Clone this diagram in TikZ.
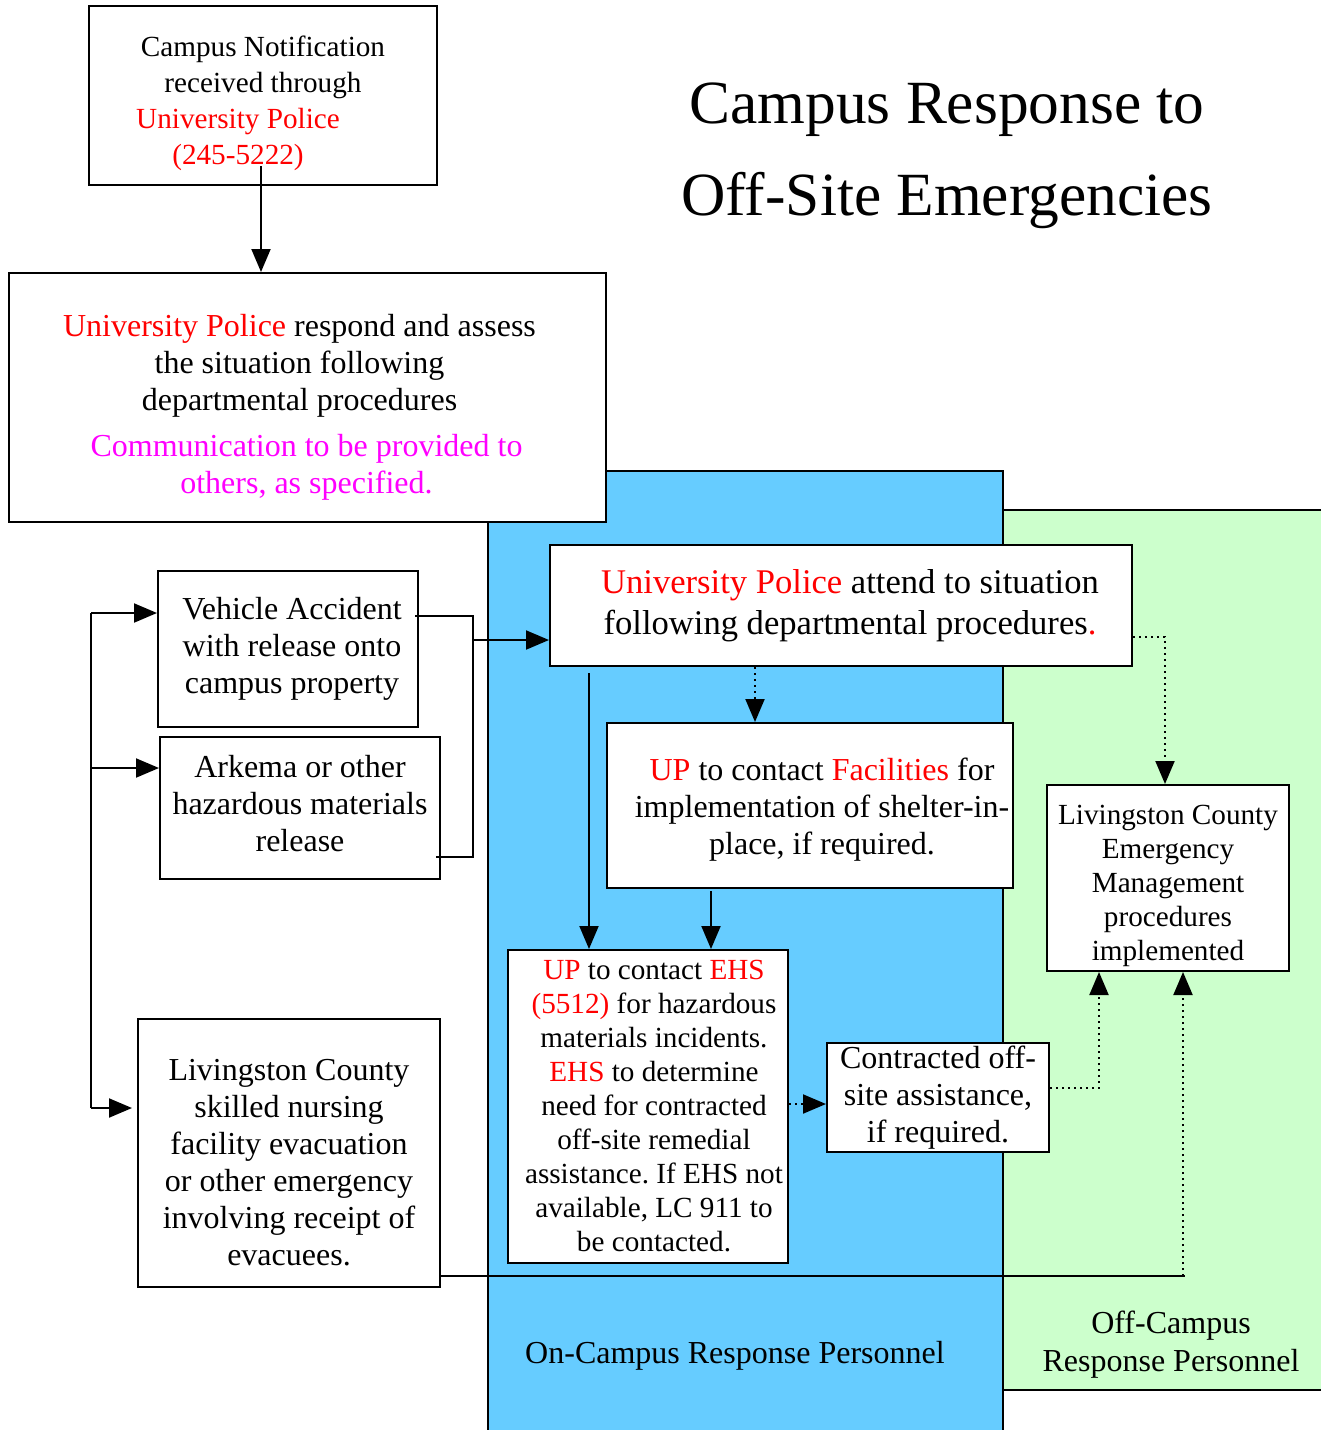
\documentclass[tikz,border=0pt]{standalone}
\usepackage{fontspec}
\setmainfont{Liberation Serif}
\usetikzlibrary{arrows.meta}
\frenchspacing

\definecolor{oncampus}{HTML}{66CCFF}
\definecolor{offcampus}{HTML}{CCFFCC}
\definecolor{upred}{RGB}{255,0,0}
\definecolor{upmagenta}{RGB}{255,0,255}

\newcommand{\toppad}[1]{\rule{0pt}{#1}}

\tikzset{
  box/.style={draw, line width=1pt, fill=white, align=center, inner sep=0pt,
    font=\fontsize{16}{18.5}\selectfont},
  smalltext/.style={font=\fontsize{14.6}{17}\selectfont},
  conn/.style={line width=1pt},
  flow/.style={conn, -{Triangle[length=11.5pt,width=9.5pt]}},
  dotflow/.style={flow, dotted},
}

\begin{document}
\begin{tikzpicture}[x=0.5pt,y=-0.5pt]

\useasboundingbox (0,0) rectangle (1321,1430);
\clip (0,0) rectangle (1321,1430);

\draw[conn, fill=offcampus] (1003,510) rectangle (1340,1390);
\draw[conn, fill=oncampus] (488,471) rectangle (1003,1450);

\node[align=center, font=\fontsize{30.7}{46}\selectfont] (title) at (947,156) {Campus Response to\\Off-Site Emergencies};

\node[box, font=\fontsize{14.6}{18}\selectfont, minimum width=174pt, minimum height=89.5pt] (notif) at (263,95.5)
  {\toppad{18.5pt}Campus Notification\\received through\\\hspace*{-25pt}\textcolor{upred}{University Police}\\\hspace*{-25pt}\textcolor{upred}{(245-5222)}};
\node[box, minimum width=298.5pt, minimum height=124.5pt] (assess) at (307.5,397.5)
  {\toppad{21pt}\hspace*{-8pt}\textcolor{upred}{University Police} respond and assess\\\hspace*{-8pt}the situation following\\\hspace*{-8pt}departmental procedures\\[4.5pt]
   \hspace*{-1pt}\textcolor{upmagenta}{Communication to be provided to}\\\hspace*{-1pt}\textcolor{upmagenta}{others, as specified.}};

\node[box, minimum width=130pt, minimum height=78pt] (vehicle) at (288,649) {\hspace*{4pt}Vehicle Accident\\\hspace*{4pt}with release onto\\\hspace*{4pt}campus property};
\node[box, minimum width=140pt, minimum height=71pt] (arkema) at (300,808) {Arkema or other\\hazardous materials\\release\rule[-5pt]{0pt}{0pt}};
\node[box, minimum width=151pt, minimum height=134pt] (nursing) at (289,1153)
  {\toppad{20pt}Livingston County\\skilled nursing\\facility evacuation\\or other emergency\\involving receipt of\\evacuees.};

\node[box, font=\fontsize{17.3}{20.5}\selectfont, minimum width=291pt, minimum height=60.5pt] (attend) at (841,605.5)
  {\hspace*{9pt}\textcolor{upred}{University Police} attend to situation\\\hspace*{9pt}following departmental procedures\textcolor{upred}{.}};
\node[box, minimum width=203pt, minimum height=82.5pt] (facil) at (810,805.5)
  {\toppad{15pt}\hspace*{12pt}\textcolor{upred}{UP} to contact \textcolor{upred}{Facilities} for\\\hspace*{12pt}implementation of shelter-in-\\\hspace*{12pt}place, if required.};
\node[box, smalltext, minimum width=140pt, minimum height=156.5pt] (ehs) at (648,1106.5)
  {\hspace*{6pt}\textcolor{upred}{UP} to contact \textcolor{upred}{EHS}\\\hspace*{6pt}\textcolor{upred}{(5512)} for hazardous\\\hspace*{6pt}materials incidents.\\\hspace*{6pt}\textcolor{upred}{EHS} to determine\\\hspace*{6pt}need for contracted\\\hspace*{6pt}off-site remedial\\\hspace*{6pt}assistance. If EHS not\\\hspace*{6pt}available, LC 911 to\\\hspace*{6pt}be contacted.};
\node[box, minimum width=111pt, minimum height=54.5pt] (contract) at (938,1097.5) {Contracted off-\\site assistance,\\if required.};
\node[box, smalltext, minimum width=121pt, minimum height=93pt] (lcem) at (1168,878)
  {\toppad{17.5pt}Livingston County\\Emergency\\Management\\procedures\\implemented};

\node[font=\fontsize{16}{19}\selectfont] (onlabel) at (735,1356) {On-Campus Response Personnel};
\node[align=center, font=\fontsize{16}{19}\selectfont] (offlabel) at (1171,1345) {Off-Campus\\Response Personnel};

\draw[flow] ([xshift=-1pt,yshift=10pt]notif.south) -- ([xshift=-1pt]notif.south |- assess.north);

\coordinate (brtop) at (473,616);
\coordinate (brmid) at (473,640);
\coordinate (brbot) at (473,857);
\draw[conn] ([xshift=-2pt]vehicle.east |- brtop) -- (brtop) -- (brbot) -- ([xshift=-2.5pt]arkema.east |- brbot);
\draw[flow] (brmid) -- (attend.west |- brmid);

\coordinate (bustop) at (91,613);
\coordinate (busmid) at (91,768);
\coordinate (busbot) at (91,1108);
\draw[conn] (bustop) -- (busbot);
\draw[flow] (bustop) -- (vehicle.west |- bustop);
\draw[flow] (busmid) -- (arkema.west |- busmid);
\draw[flow] (busbot) -- ([xshift=-2.5pt]nursing.west |- busbot);

\draw[flow] ([yshift=-3pt]attend.south -| 589,0) -- (ehs.north -| 589,0);
\draw[dotflow] (attend.south -| 755,0) -- (facil.north -| 755,0);
\draw[flow] ([yshift=-1pt]facil.south -| 711,0) -- (ehs.north -| 711,0);
\draw[dotflow] (attend.east |- 0,637) -- (1165,637) -- (lcem.north -| 1165,0);

\draw[dotflow] (ehs.east |- 0,1104) -- (contract.west |- 0,1104);
\draw[dotflow] (contract.east |- 0,1088) -- (1099,1088) -- (lcem.south -| 1099,0);

\draw[conn] (nursing.east |- 0,1276) -- (1185,1276);
\draw[dotflow] (1183,1276) -- (lcem.south -| 1183,0);

\end{tikzpicture}
\end{document}
